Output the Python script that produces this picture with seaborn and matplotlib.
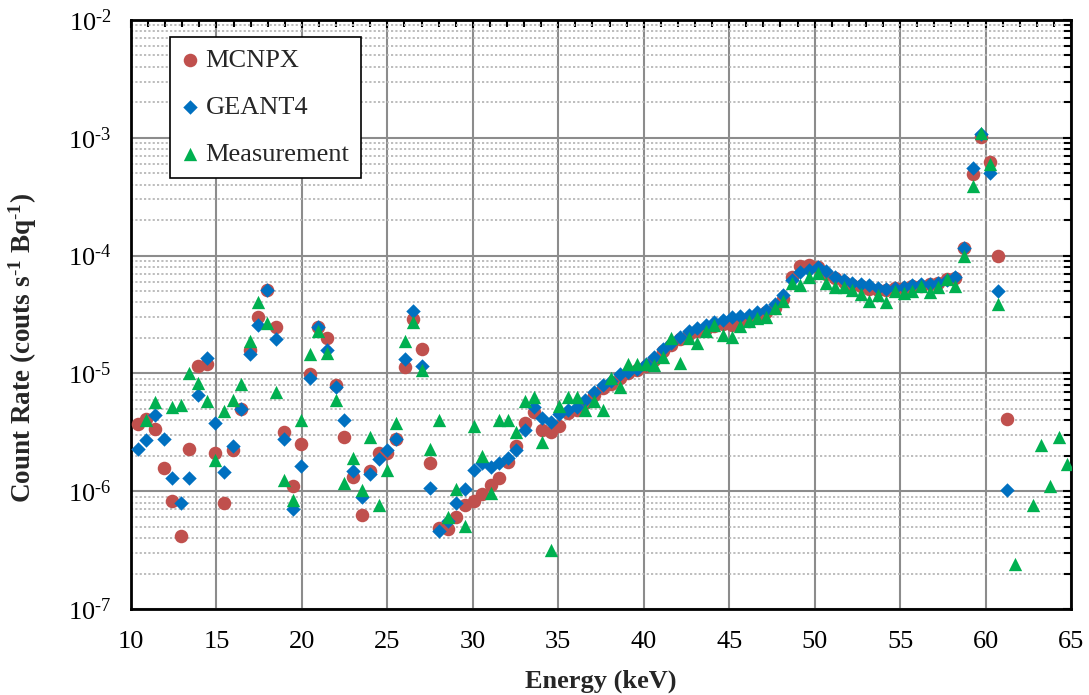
import numpy as np
import pandas as pd
import seaborn as sns
import matplotlib.pyplot as plt
from matplotlib.ticker import LogLocator, MultipleLocator, NullFormatter

# Energia dos canais (keV)
energia = [
    10.40, 10.90, 11.41, 11.91, 12.41, 12.92, 13.42, 13.92, 14.43, 14.93,
    15.44, 15.94, 16.44, 16.95, 17.45, 17.95, 18.46, 18.96, 19.46, 19.97,
    20.47, 20.97, 21.48, 21.98, 22.48, 22.99, 23.49, 23.99, 24.50, 25.00,
    25.51, 26.01, 26.51, 27.02, 27.52, 28.02, 28.53, 29.03, 29.53, 30.04,
    30.54, 31.04, 31.55, 32.05, 32.55, 33.06, 33.56, 34.06, 34.57, 35.07,
    35.58, 36.08, 36.58, 37.09, 37.59, 38.09, 38.60, 39.10, 39.60, 40.11,
    40.61, 41.11, 41.62, 42.12, 42.62, 43.13, 43.63, 44.13, 44.64, 45.14,
    45.65, 46.15, 46.65, 47.16, 47.66, 48.16, 48.67, 49.17, 49.67, 50.18,
    50.68, 51.18, 51.69, 52.19, 52.69, 53.20, 53.70, 54.20, 54.71, 55.21,
    55.71, 56.22, 56.72, 57.22, 57.73, 58.23, 58.73, 59.24, 59.74, 60.24,
    60.75, 61.25, 61.75, 62.26, 62.76, 63.26, 63.77, 64.27, 64.77,
]

nan = np.nan

mcnpx = [
    3.7e-6, 4.1e-6, 3.4e-6, 1.58e-6, 8.2e-7, 4.2e-7, 2.3e-6, 1.15e-5, 1.2e-5, 2.1e-6,
    7.9e-7, 2.25e-6, 5.0e-6, 1.58e-5, 3.0e-5, 5.1e-5, 2.5e-5, 3.2e-6, 1.1e-6, 2.5e-6,
    9.8e-6, 2.5e-5, 2.0e-5, 7.9e-6, 2.9e-6, 1.33e-6, 6.3e-7, 1.49e-6, 2.1e-6, 2.1e-6,
    2.8e-6, 1.14e-5, 2.9e-5, 1.6e-5, 1.74e-6, 4.9e-7, 4.8e-7, 6.0e-7, 7.6e-7, 8.3e-7,
    9.4e-7, 1.12e-6, 1.29e-6, 1.78e-6, 2.4e-6, 3.8e-6, 4.7e-6, 3.3e-6, 3.2e-6, 3.6e-6,
    4.6e-6, 4.9e-6, 5.6e-6, 6.6e-6, 7.5e-6, 8.2e-6, 9.1e-6, 1.0e-5, 1.07e-5, 1.15e-5,
    1.3e-5, 1.55e-5, 1.75e-5, 1.95e-5, 2.15e-5, 2.3e-5, 2.4e-5, 2.55e-5, 2.65e-5, 2.6e-5,
    2.75e-5, 2.8e-5, 3.0e-5, 3.3e-5, 3.6e-5, 4.3e-5, 6.6e-5, 8.2e-5, 8.3e-5, 8.0e-5,
    7.0e-5, 6.4e-5, 6.0e-5, 5.6e-5, 5.5e-5, 5.2e-5, 5.1e-5, 5.1e-5, 5.3e-5, 5.3e-5,
    5.5e-5, 5.5e-5, 5.7e-5, 5.9e-5, 6.3e-5, 6.5e-5, 1.15e-4, 4.9e-4, 1.02e-3, 6.2e-4,
    1.0e-4, 4.1e-6, nan, nan, nan, nan, nan, nan, nan,
]

geant4 = [
    2.3e-6, 2.7e-6, 4.4e-6, 2.8e-6, 1.3e-6, 7.9e-7, 1.3e-6, 6.6e-6, 1.34e-5, 3.8e-6,
    1.45e-6, 2.4e-6, 5.0e-6, 1.47e-5, 2.6e-5, 5.1e-5, 1.95e-5, 2.75e-6, 7.1e-7, 1.63e-6,
    9.1e-6, 2.5e-5, 1.58e-5, 7.6e-6, 4.0e-6, 1.49e-6, 9.0e-7, 1.4e-6, 1.88e-6, 2.25e-6,
    2.8e-6, 1.33e-5, 3.4e-5, 1.15e-5, 1.07e-6, 4.6e-7, 5.6e-7, 7.9e-7, 1.04e-6, 1.52e-6,
    1.73e-6, 1.61e-6, 1.73e-6, 1.9e-6, 2.25e-6, 3.3e-6, 5.2e-6, 4.2e-6, 3.9e-6, 4.5e-6,
    4.9e-6, 5.2e-6, 6.0e-6, 6.9e-6, 7.9e-6, 8.7e-6, 9.8e-6, 1.02e-5, 1.1e-5, 1.2e-5,
    1.38e-5, 1.62e-5, 1.82e-5, 2.05e-5, 2.3e-5, 2.45e-5, 2.6e-5, 2.75e-5, 2.85e-5, 3.0e-5,
    3.1e-5, 3.15e-5, 3.3e-5, 3.45e-5, 3.9e-5, 4.6e-5, 6.2e-5, 7.2e-5, 7.6e-5, 8.0e-5,
    7.4e-5, 6.6e-5, 6.2e-5, 5.8e-5, 5.7e-5, 5.6e-5, 5.3e-5, 5.2e-5, 5.3e-5, 5.4e-5,
    5.6e-5, 5.7e-5, 5.7e-5, 5.9e-5, 6.2e-5, 6.6e-5, 1.15e-4, 5.5e-4, 1.07e-3, 5.0e-4,
    5.0e-5, 1.02e-6, nan, nan, nan, nan, nan, nan, nan,
]

medicao = [
    nan, 4.0e-6, 5.7e-6, nan, 5.2e-6, 5.4e-6, 1.0e-5, 8.3e-6, 5.8e-6, 1.83e-6,
    4.8e-6, 5.9e-6, 8.2e-6, 1.9e-5, 4.0e-5, 2.7e-5, 6.9e-6, 1.24e-6, 8.4e-7, 4.0e-6,
    1.45e-5, 2.3e-5, 1.5e-5, 6.0e-6, 1.18e-6, 1.9e-6, 1.02e-6, 2.9e-6, 7.6e-7, 1.5e-6,
    3.8e-6, 1.9e-5, 2.75e-5, 1.07e-5, 2.3e-6, 4.0e-6, 6.1e-7, 1.04e-6, 5.1e-7, 3.6e-6,
    2.0e-6, 9.7e-7, 4.0e-6, 4.0e-6, 3.2e-6, 5.8e-6, 6.3e-6, 2.6e-6, 3.2e-7, 5.3e-6,
    6.3e-6, 6.3e-6, 4.9e-6, 5.8e-6, 4.9e-6, 9.2e-6, 7.6e-6, 1.2e-5, 1.2e-5, 1.2e-5,
    1.18e-5, 1.38e-5, 2.0e-5, 1.23e-5, 2.0e-5, 1.8e-5, 2.3e-5, 2.6e-5, 2.1e-5, 2.05e-5,
    2.55e-5, 2.8e-5, 2.95e-5, 3.0e-5, 3.6e-5, 4.1e-5, 5.9e-5, 5.6e-5, 6.6e-5, 7.1e-5,
    5.9e-5, 5.4e-5, 5.4e-5, 5.1e-5, 4.7e-5, 4.1e-5, 4.6e-5, 4.0e-5, 5.0e-5, 4.8e-5,
    5.0e-5, 5.5e-5, 4.9e-5, 5.4e-5, 6.3e-5, 5.5e-5, 1.0e-4, 3.9e-4, 1.1e-3, 6.0e-4,
    3.9e-5, nan, 2.4e-7, nan, 7.7e-7, 2.45e-6, 1.1e-6, 2.9e-6, 1.7e-6,
]

expoentes = [7, 6, 5, 4, 3, 2]

df = pd.DataFrame({
    'Energy': energia,
    'MCNPX': mcnpx,
    'GEANT4': geant4,
    'Measurement': medicao,
})

sns.set_style("white")
plt.rcParams['font.family'] = ['Liberation Serif', 'DejaVu Serif']
plt.rcParams['mathtext.fontset'] = 'custom'
plt.rcParams['mathtext.rm'] = 'Liberation Serif'
plt.rcParams['mathtext.it'] = 'Liberation Serif:italic'
plt.rcParams['mathtext.bf'] = 'Liberation Serif:bold'

fig = plt.figure(figsize=(10.89, 6.95), dpi=100)
ax = fig.add_axes([0.1203, 0.1237, 0.8632, 0.8475])

estilos = [
    ('MCNPX', 'o', '#C0504D', 95),
    ('GEANT4', 'D', '#0070C0', 54),
    ('Measurement', '^', '#00B050', 92),
]
for nome, marcador, cor, tam in estilos:
    sub = df[['Energy', nome]].dropna()
    sns.scatterplot(data=sub, x='Energy', y=nome, marker=marcador, color=cor,
                    s=tam, linewidth=0, label=nome, ax=ax, zorder=3)

ax.set_yscale('log')
ax.set_xlim(10, 65)
ax.set_ylim(1e-7, 1e-2)

ax.xaxis.set_major_locator(MultipleLocator(5))
ax.xaxis.set_minor_locator(MultipleLocator(1))
ax.yaxis.set_minor_locator(LogLocator(base=10, subs=np.arange(2, 10), numticks=10))
ax.yaxis.set_minor_formatter(NullFormatter())
ax.set_yticks([10.0 ** (-k) for k in expoentes])
ax.set_yticklabels([r'10$^{\text{-}%d}$' % k for k in expoentes])

ax.grid(which='major', axis='both', color='#8c8c8c', linewidth=1.5, linestyle='-', zorder=0)
ax.grid(which='minor', axis='y', color='#b8b8b8', linewidth=1.3, linestyle=(0, (1.2, 1.2)), zorder=0)
ax.set_axisbelow(True)

ax.tick_params(which='both', direction='in', top=True, right=True, width=1.5, colors='black')
ax.tick_params(which='major', length=6, labelsize=19)
ax.tick_params(axis='x', which='major', pad=16)
ax.tick_params(axis='y', which='major', pad=14)
ax.tick_params(which='minor', length=5)
for lado in ax.spines.values():
    lado.set_color('black')
    lado.set_linewidth(2)

ax.set_xlabel('Energy (keV)', fontsize=19, fontweight='bold', labelpad=12)
ax.set_ylabel(r'Count Rate (couts s$^{\mathbf{\text{-}1}}$ Bq$^{\mathbf{\text{-}1}}$)',
              fontsize=19.5, fontweight='bold')
ax.yaxis.set_label_coords(-0.098, 0.443)

leg = ax.legend(loc='upper left', bbox_to_anchor=(0.0415, 0.972), borderaxespad=0,
                fontsize=19, frameon=True, fancybox=False, edgecolor='black',
                labelspacing=0.9, handletextpad=0.3, handlelength=0.6,
                borderpad=0.45, framealpha=1)
leg.get_frame().set_linewidth(1.2)

plt.savefig('out.png', dpi=100)
plt.close()
